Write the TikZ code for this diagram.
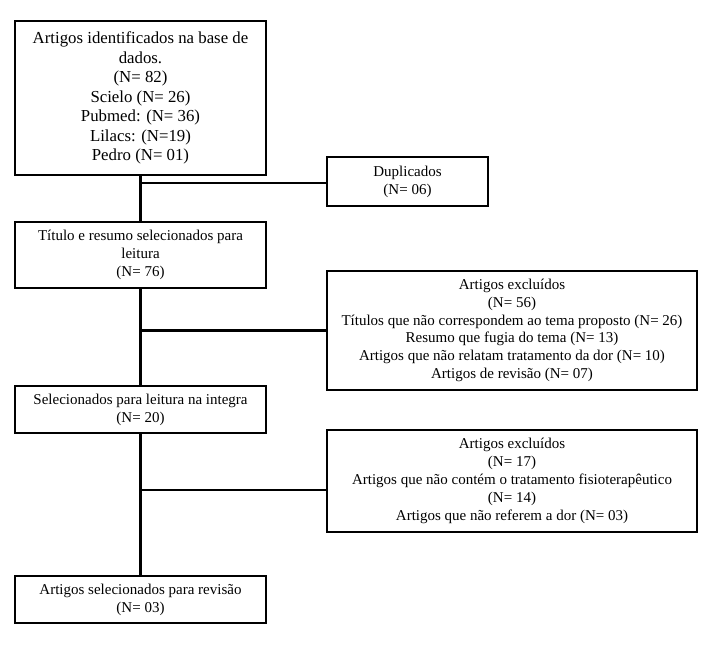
\documentclass[tikz,border=0pt]{standalone}
\usepackage{fontspec}
\setmainfont{Liberation Serif}
\begin{document}
\begin{tikzpicture}[x=1pt,y=-1pt,
  box/.style={draw=black,line width=2pt,align=center,inner sep=2pt,font=\fontsize{15}{18}\selectfont},
  conn/.style={line width=2.2pt,draw=black}]
\useasboundingbox (0,0) rectangle (720,647);
\node[box,minimum width=251pt,minimum height=154pt,font=\fontsize{16.8}{19.5}\selectfont] (b1) at (140.5,98)
  {Artigos identificados na base de\\dados.\\(N= 82)\\Scielo (N= 26)\\Pubmed: (N= 36)\\Lilacs: (N=19)\\Pedro (N= 01)};
\node[box,minimum width=161pt,minimum height=49pt] (dup) at (407.5,181.5) {Duplicados\\(N= 06)};
\node[box,minimum width=251pt,minimum height=66pt] (b2) at (140.5,255)
  {Título e resumo selecionados para\\leitura\\(N= 76)};
\node[box,minimum width=370pt,minimum height=119pt,font=\fontsize{15}{17.8}\selectfont] (e1) at (512,330.5)
  {Artigos excluídos\\(N= 56)\\Títulos que não correspondem ao tema proposto (N= 26)\\Resumo que fugia do tema (N= 13)\\Artigos que não relatam tratamento da dor (N= 10)\\Artigos de revisão (N= 07)};
\node[box,minimum width=251pt,minimum height=47pt] (b3) at (140.5,409.5)
  {Selecionados para leitura na integra\\(N= 20)};
\node[box,minimum width=370pt,minimum height=102pt,font=\fontsize{15}{18}\selectfont] (e2) at (512,481)
  {Artigos excluídos\\(N= 17)\\Artigos que não contém o tratamento fisioterapêutico\\(N= 14)\\Artigos que não referem a dor (N= 03)};
\node[box,minimum width=251pt,minimum height=47pt] (b4) at (140.5,599.5)
  {Artigos selecionados para revisão\\(N= 03)};
\draw[conn] (b1.south) -- (b2.north);
\draw[conn] (b2.south) -- (b3.north);
\draw[conn] (b3.south) -- (b4.north);
\coordinate (c1) at (327,183);
\coordinate (c2) at (327,330.5);
\coordinate (c3) at (327,490);
\draw[conn] (c1 -| b1.south) -- (c1);
\draw[conn] (c2 -| b1.south) -- (c2);
\draw[conn] (c3 -| b1.south) -- (c3);
\end{tikzpicture}
\end{document}
